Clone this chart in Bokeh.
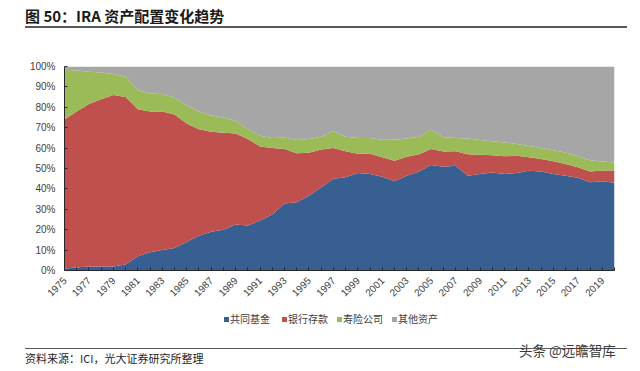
from math import pi
from bokeh.plotting import figure
from bokeh.layouts import column
from bokeh.models import (ColumnDataSource, FixedTicker, PrintfTickFormatter, Range1d, Div)
from bokeh.embed import file_html
from bokeh.resources import INLINE

years = list(range(1975, 2021))
mutual_funds = [1.0, 1.5, 2.0, 2.0, 2.0, 3.0, 7.0, 9.0, 10.0, 11.0,
                14.0, 17.0, 19.0, 20.0, 22.5, 22.0, 24.5, 27.5, 32.8, 33.4,
                36.7, 40.8, 45.0, 45.7, 47.8, 47.3, 46.0, 43.8, 46.5, 48.5,
                51.7, 50.9, 51.3, 46.5, 47.3, 48.0, 47.3, 47.8, 48.9, 48.5,
                47.3, 46.5, 45.5, 43.2, 43.7, 43.0]
bank_deposits = [73.0, 76.5, 79.6, 82.0, 84.0, 82.0, 72.0, 69.0, 68.0, 65.5,
                 58.0, 52.3, 49.0, 47.5, 44.7, 42.4, 36.3, 32.5, 26.7, 24.1,
                 21.0, 18.5, 15.0, 12.8, 9.4, 9.9, 9.5, 10.0, 9.3, 8.5,
                 7.8, 7.4, 7.2, 10.5, 9.5, 8.5, 8.7, 8.4, 6.6, 6.2,
                 6.2, 5.7, 5.1, 5.3, 5.3, 6.0]
life_insurance = [24.4, 20.0, 15.8, 13.0, 10.3, 10.0, 9.4, 8.8, 8.5, 8.3,
                  9.0, 8.7, 8.0, 7.5, 6.2, 4.9, 5.2, 5.0, 5.7, 6.5,
                  6.8, 6.3, 8.2, 7.1, 7.8, 7.8, 8.6, 10.3, 8.9, 8.6,
                  9.5, 7.0, 6.5, 7.7, 7.2, 6.9, 6.8, 5.8, 5.5, 5.3,
                  5.5, 5.6, 5.4, 5.5, 4.4, 4.0]
other_assets = [1.6, 2.0, 2.6, 3.0, 3.7, 5.0, 11.6, 13.2, 13.5, 15.2,
                19.0, 22.0, 24.0, 25.0, 26.6, 30.7, 34.0, 35.0, 34.8, 36.0,
                35.5, 34.4, 31.8, 34.4, 35.0, 35.0, 35.9, 35.9, 35.3, 34.4,
                31.0, 34.7, 35.0, 35.3, 36.0, 36.6, 37.2, 38.0, 39.0, 40.0,
                41.0, 42.2, 44.0, 46.0, 46.6, 47.0]
series_names = ["共同基金", "银行存款", "寿险公司", "其他资产"]
colors = ["#375F91", "#C0504D", "#9BBB59", "#A6A6A6"]
y_ticks = [0, 10, 20, 30, 40, 50, 60, 70, 80, 90, 100]
label_years = list(range(1975, 2020, 2))

title_text = "图 50：IRA 资产配置变化趋势"
source_text = "资料来源：ICI，光大证券研究所整理"
watermark_text = "头条 @远瞻智库"

W = 640
TOP_H = 40          # title block height
FIG_H = 265         # figure block height (page y 40..305)
BOT_H = 66          # legend + footer block (page y 305..371)
FL, FR = 64, 614    # frame left/right (px)
FT, FB = 66, 270    # frame top/bottom (page px)
CJK = "'Noto Sans CJK SC', sans-serif"

src = ColumnDataSource(dict(year=years, mf=mutual_funds, bank=bank_deposits,
                            ins=life_insurance, oth=other_assets))

p = figure(width=W, height=FIG_H, x_range=Range1d(1975, 2020), y_range=Range1d(0, 100),
           output_backend="svg", toolbar_location=None,
           min_border_left=FL, min_border_right=W - FR, min_border_top=FT - TOP_H,
           min_border_bottom=TOP_H + FIG_H - FB, margin=0)
p.background_fill_color = "white"
p.border_fill_color = "white"
p.outline_line_color = None
p.grid.grid_line_color = None

p.varea_stack(["mf", "bank", "ins", "oth"], x="year", source=src, color=colors)

p.xaxis.ticker = FixedTicker(ticks=years)
p.xaxis.major_label_overrides = {y: (str(y) if y in label_years else "") for y in years}
p.xaxis.major_label_orientation = pi / 4
p.yaxis.ticker = FixedTicker(ticks=y_ticks)
p.yaxis.formatter = PrintfTickFormatter(format="%d%%")
for ax in (p.xaxis, p.yaxis):
    ax.axis_line_color = "#262626"
    ax.axis_line_width = 1
    ax.major_tick_in = 3
    ax.major_tick_out = 0
    ax.major_tick_line_color = "#262626"
    ax.minor_tick_line_color = None
    ax.major_label_text_font = "Liberation Sans"
    ax.major_label_text_font_size = "10px"
    ax.major_label_text_color = "#404040"
p.yaxis.major_label_standoff = 9
p.xaxis.major_label_standoff = 8


def abs_div(left, top, inner, style=""):
    return (f'<div style="position:absolute;left:{left}px;top:{top}px;'
            f'white-space:nowrap;{style}">{inner}</div>')


def rule(left, top, width, thick, color):
    return (f'<div style="position:absolute;left:{left}px;top:{top}px;width:{width}px;'
            f'height:0px;border-top:{thick}px solid {color};"></div>')


title_html = (
    f'<div style="width:{W}px;height:{TOP_H}px;font-family:{CJK};">'
    f'<div style="margin-left:25px;width:602px;height:28px;padding-top:5px;'
    f'border-bottom:2px solid #595959;white-space:nowrap;font-size:15px;'
    f'font-weight:bold;color:#1a1a1a;line-height:22px;">{title_text}</div>'
    '</div>'
)
title_div = Div(text=title_html, width=W, height=TOP_H, margin=0)

leg_x = [224, 282, 337, 392]
legend_parts = ""
for lx, name, c in zip(leg_x, series_names, colors):
    legend_parts += abs_div(lx, 12, "", f"width:5px;height:5px;background:{c};")
    legend_parts += abs_div(lx + 6, 6, name, "font-size:10px;color:#404040;line-height:16px;")

footer_html = (
    f'<div style="position:relative;width:{W}px;height:{BOT_H}px;font-family:{CJK};">'
    + legend_parts
    + rule(25, 43, 602, 1, "#595959")
    + abs_div(25, 45, source_text, "font-size:11px;color:#262626;line-height:16px;")
    + abs_div(519, 35, watermark_text, "font-size:13.5px;color:#3a3a3a;line-height:20px;")
    + '</div>'
)
footer_div = Div(text=footer_html, width=W, height=BOT_H, margin=0)

layout = column(title_div, p, footer_div, spacing=0, margin=0)

open("out.html", "w").write(file_html(layout, INLINE))
